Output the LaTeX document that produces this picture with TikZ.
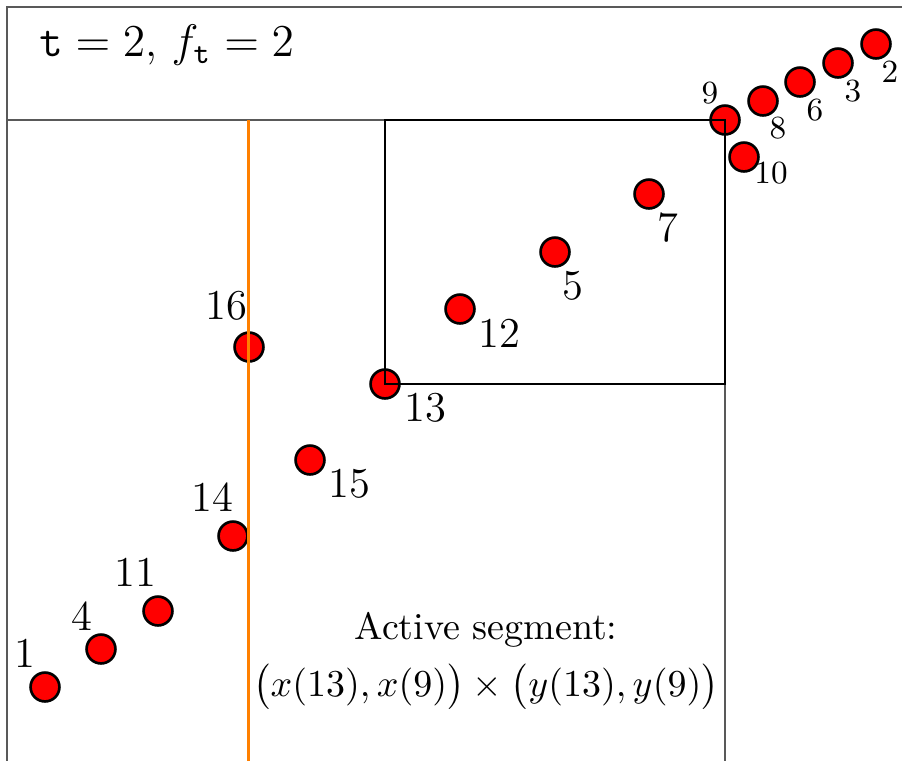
\documentclass[tikz,border=0pt]{standalone}
\usepackage{amsmath}
\usetikzlibrary{positioning}
\definecolor{sweepcol}{HTML}{FF8000}
\tikzstyle{point}    = [line width=0.7pt, draw, circle, fill=red, minimum size=7.6pt, inner sep=0pt]
\tikzstyle{num}      = [inner sep=0pt, font=\fontsize{11.2}{13}\selectfont]
\tikzstyle{smallnum} = [inner sep=0pt, font=\fontsize{8.5}{10}\selectfont]
\tikzstyle{frame}    = [black!65, line width=0.45pt]
\tikzstyle{box}      = [black, line width=0.5pt]
\tikzstyle{sweep}    = [sweepcol, line width=0.9pt]

\begin{document}
\begin{tikzpicture}[x=0.2632pt, y=-0.2632pt]
\useasboundingbox (0,0) rectangle (902,761);

% body
\node[point] (p1)  at (45,687)  {};
\node[point] (p4)  at (101,649) {};
\node[point] (p11) at (158,611) {};
\node[point] (p14) at (233,536) {};
\node[point] (p16) at (249,347) {};
\node[point] (p15) at (310,460) {};
\node[point] (p13) at (385,384) {};
\node[point] (p12) at (460,309) {};
\node[point] (p5)  at (555,252) {};
\node[point] (p7)  at (649,194) {};

% top right
\node[point] (p9)  at (725,120) {};
\node[point] (p10) at (744,157) {};
\node[point] (p8)  at (763,101) {};
\node[point] (p6)  at (800,82)  {};
\node[point] (p3)  at (838,63)  {};
\node[point] (p2)  at (876,44)  {};

% labels
\node[num] (l1)  at (25,653)  {1};
\node[num] (l4)  at (82,616)  {4};
\node[num] (l11) at (135,572) {11};
\node[num] (l14) at (212,497) {14};
\node[num] (l16) at (226,306) {16};
\node[num] (l15) at (349,484) {15};
\node[num] (l13) at (425,408) {13};
\node[num] (l12) at (499,333) {12};
\node[num] (l5)  at (573,286) {5};
\node[num] (l7)  at (668,228) {7};

\node[smallnum] (l9)  at (710,93)  {9};
\node[smallnum] (l10) at (771,173) {10};
\node[smallnum] (l8)  at (778,128) {8};
\node[smallnum] (l6)  at (815,110) {6};
\node[smallnum] (l3)  at (853,91)  {3};
\node[smallnum] (l2)  at (890,72)  {2};

% frame
\draw[frame] (902,7) -- (7,7) -- (7,761);
\draw[frame] (7,120) -- (p13 |- p9);
\draw[frame] (p9 |- p13) -- (725,761);

% active box
\draw[box] (p13.center) rectangle (p9.center);

% sweep line
\draw[sweep] (248.5,120) -- (248.5,761);

% texts
\node[anchor=west, font=\fontsize{11.6}{14}\selectfont] (title) at (26,45) {$\mathtt{t} = 2$, $f_{\mathtt{t}} = 2$};
\node[align=center] (seg) at (486,661) {Active segment:\\[3pt] $\bigl(x(13),x(9)\bigr)\times\bigl(y(13),y(9)\bigr)$};

\end{tikzpicture}
\end{document}
